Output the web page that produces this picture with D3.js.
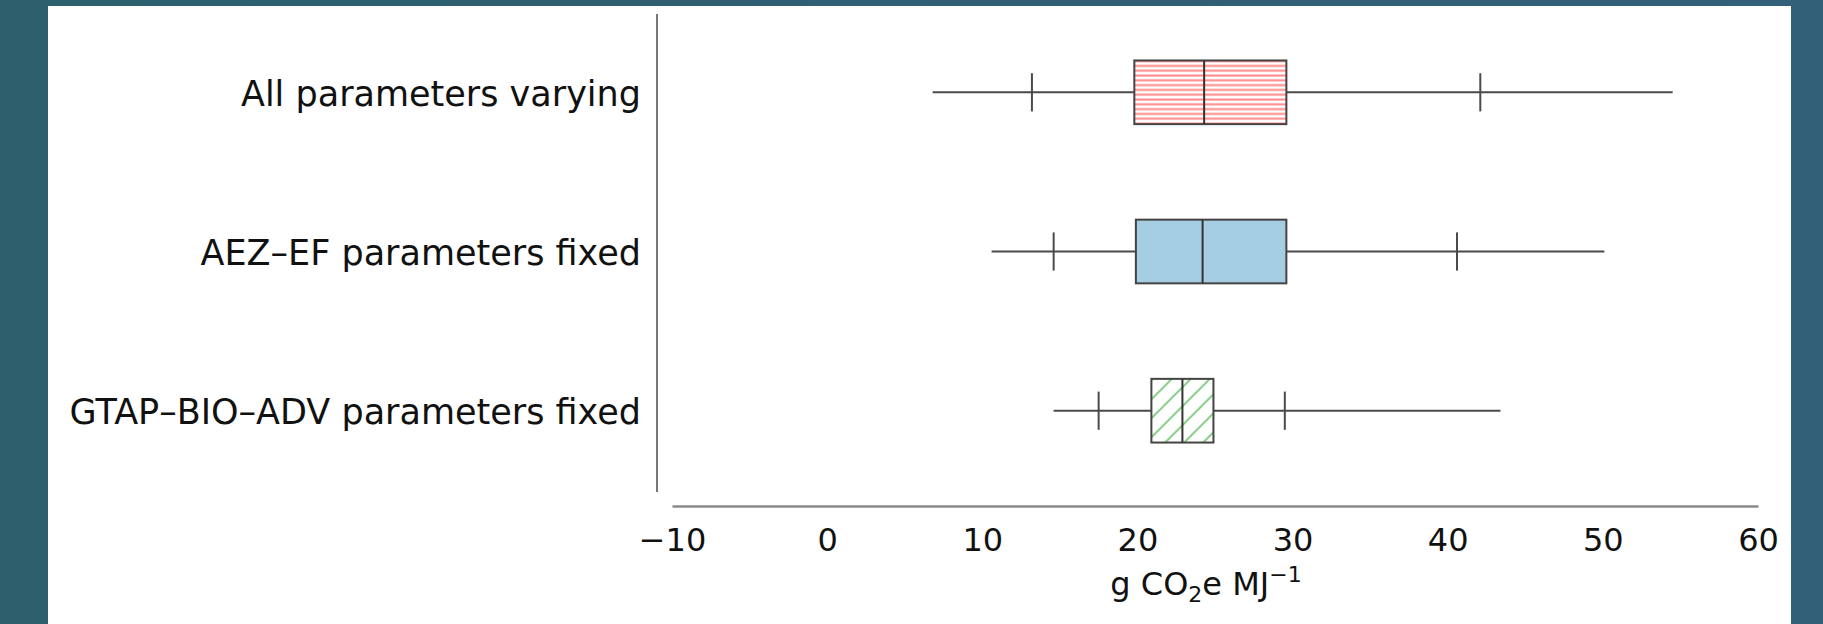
<!DOCTYPE html>
<html>
<head>
<meta charset="utf-8">
<script src="https://cdn.jsdelivr.net/npm/d3@7"></script>
<style>
  html, body { margin: 0; padding: 0; }
  body { width: 1823px; height: 624px; overflow: hidden; }
  svg { display: block; font-family: "DejaVu Sans", sans-serif; }
</style>
</head>
<body>
<svg id="chart"></svg>
<script>
const width = 1823;
const height = 624;

// box plot values (g CO2e per MJ)
const categories = ["All parameters varying", "AEZ\u2013EF parameters fixed", "GTAP\u2013BIO\u2013ADV parameters fixed"];
const whiskerLow = [6.8, 10.6, 14.6];
const markLow = [13.2, 14.6, 17.5];
const q1 = [19.8, 19.9, 20.9];
const median = [24.3, 24.2, 22.9];
const q3 = [29.6, 29.6, 24.9];
const markHigh = [42.1, 40.6, 29.5];
const whiskerHigh = [54.5, 50.1, 43.4];
const fills = ["url(#hatchRed)", "#a6cee3", "url(#hatchGreen)"];
const xTicks = [-10, 0, 10, 20, 30, 40, 50, 60];

const rows = categories.map((c, i) => ({
  name: c, lo: whiskerLow[i], pLo: markLow[i], q1: q1[i], med: median[i],
  q3: q3[i], pHi: markHigh[i], hi: whiskerHigh[i], fill: fills[i]
}));

var svg = d3.select("#chart")
    .attr("width", width)
    .attr("height", height);

var defs = svg.append("defs");

// background gradient
var grad = defs.append("linearGradient").attr("id", "bg");
grad.append("stop").attr("offset", "0%").attr("stop-color", "#2d5f6d");
grad.append("stop").attr("offset", "100%").attr("stop-color", "#336079");

// horizontal red stripes
var pRed = defs.append("pattern")
    .attr("id", "hatchRed")
    .attr("patternUnits", "userSpaceOnUse")
    .attr("width", 10).attr("height", 4.8);
pRed.append("rect").attr("width", 10).attr("height", 4.8).attr("fill", "#fff");
pRed.append("rect").attr("y", 1.4).attr("width", 10).attr("height", 2).attr("fill", "#ff8888");

// diagonal green hatch
var pGreen = defs.append("pattern")
    .attr("id", "hatchGreen")
    .attr("patternUnits", "userSpaceOnUse")
    .attr("width", 19).attr("height", 19);
pGreen.append("rect").attr("width", 19).attr("height", 19).attr("fill", "#fff");
pGreen.append("path")
    .attr("d", "M0,19L19,0M-5,5L5,-5M14,24L24,14")
    .attr("stroke", "#7cca7c")
    .attr("stroke-width", 1.9);

svg.append("rect").attr("width", width).attr("height", height).attr("fill", "url(#bg)");
svg.append("rect")
    .attr("x", 48).attr("y", 6)
    .attr("width", 1791 - 48).attr("height", height - 6)
    .attr("fill", "#fff");

var x = d3.scaleLinear().domain([-10, 60]).range([672, 1758]);
var y = d3.scaleBand().domain(categories).range([12.7, 490.3]);

const boxH = y.bandwidth() * 0.4;
const markH = y.bandwidth() * 0.24;
const lineColor = "#4a4a4a";

// y axis line
svg.append("line")
    .attr("x1", 657).attr("x2", 657)
    .attr("y1", 14).attr("y2", 492)
    .attr("stroke", "#555").attr("stroke-width", 1.6);

// category labels
svg.append("g")
    .selectAll("text")
    .data(categories).enter()
    .append("text")
    .attr("x", 641)
    .attr("y", d => y(d) + y.bandwidth() / 2)
    .attr("dy", "0.38em")
    .attr("text-anchor", "end")
    .attr("font-size", 35)
    .attr("fill", "#111")
    .text(d => d);

// x axis
var xAxis = d3.axisBottom(x)
    .tickValues(xTicks)
    .tickSize(0)
    .tickPadding(22);
var gx = svg.append("g")
    .attr("transform", "translate(0,506)")
    .call(xAxis);
gx.select(".domain").attr("stroke", "#8a8a8a").attr("stroke-width", 2.6);
gx.selectAll("text")
    .attr("font-family", "DejaVu Sans, sans-serif")
    .attr("font-size", 32)
    .attr("fill", "#111");

var xLabel = svg.append("text")
    .attr("x", 1206).attr("y", 595)
    .attr("text-anchor", "middle")
    .attr("font-size", 32)
    .attr("fill", "#111");
xLabel.append("tspan").text("g CO");
xLabel.append("tspan").attr("font-size", 22).attr("dy", 7).text("2");
xLabel.append("tspan").attr("dy", -7).text("e MJ");
xLabel.append("tspan").attr("font-size", 22).attr("dy", -13).text("\u22121");

// boxes
var g = svg.append("g")
    .selectAll("g")
    .data(rows).enter()
    .append("g")
    .attr("transform", d => `translate(0,${y(d.name) + y.bandwidth() / 2})`);

g.append("line")
    .attr("x1", d => x(d.lo)).attr("x2", d => x(d.hi))
    .attr("stroke", lineColor).attr("stroke-width", 2);

g.append("line")
    .attr("x1", d => x(d.pLo)).attr("x2", d => x(d.pLo))
    .attr("y1", -markH / 2).attr("y2", markH / 2)
    .attr("stroke", lineColor).attr("stroke-width", 2);

g.append("line")
    .attr("x1", d => x(d.pHi)).attr("x2", d => x(d.pHi))
    .attr("y1", -markH / 2).attr("y2", markH / 2)
    .attr("stroke", lineColor).attr("stroke-width", 2);

g.append("rect")
    .attr("x", d => x(d.q1))
    .attr("width", d => x(d.q3) - x(d.q1))
    .attr("y", -boxH / 2)
    .attr("height", boxH)
    .attr("fill", d => d.fill)
    .attr("stroke", "#444").attr("stroke-width", 2);

g.append("line")
    .attr("x1", d => x(d.med)).attr("x2", d => x(d.med))
    .attr("y1", -boxH / 2).attr("y2", boxH / 2)
    .attr("stroke", "#333").attr("stroke-width", 2);
</script>
</body>
</html>
